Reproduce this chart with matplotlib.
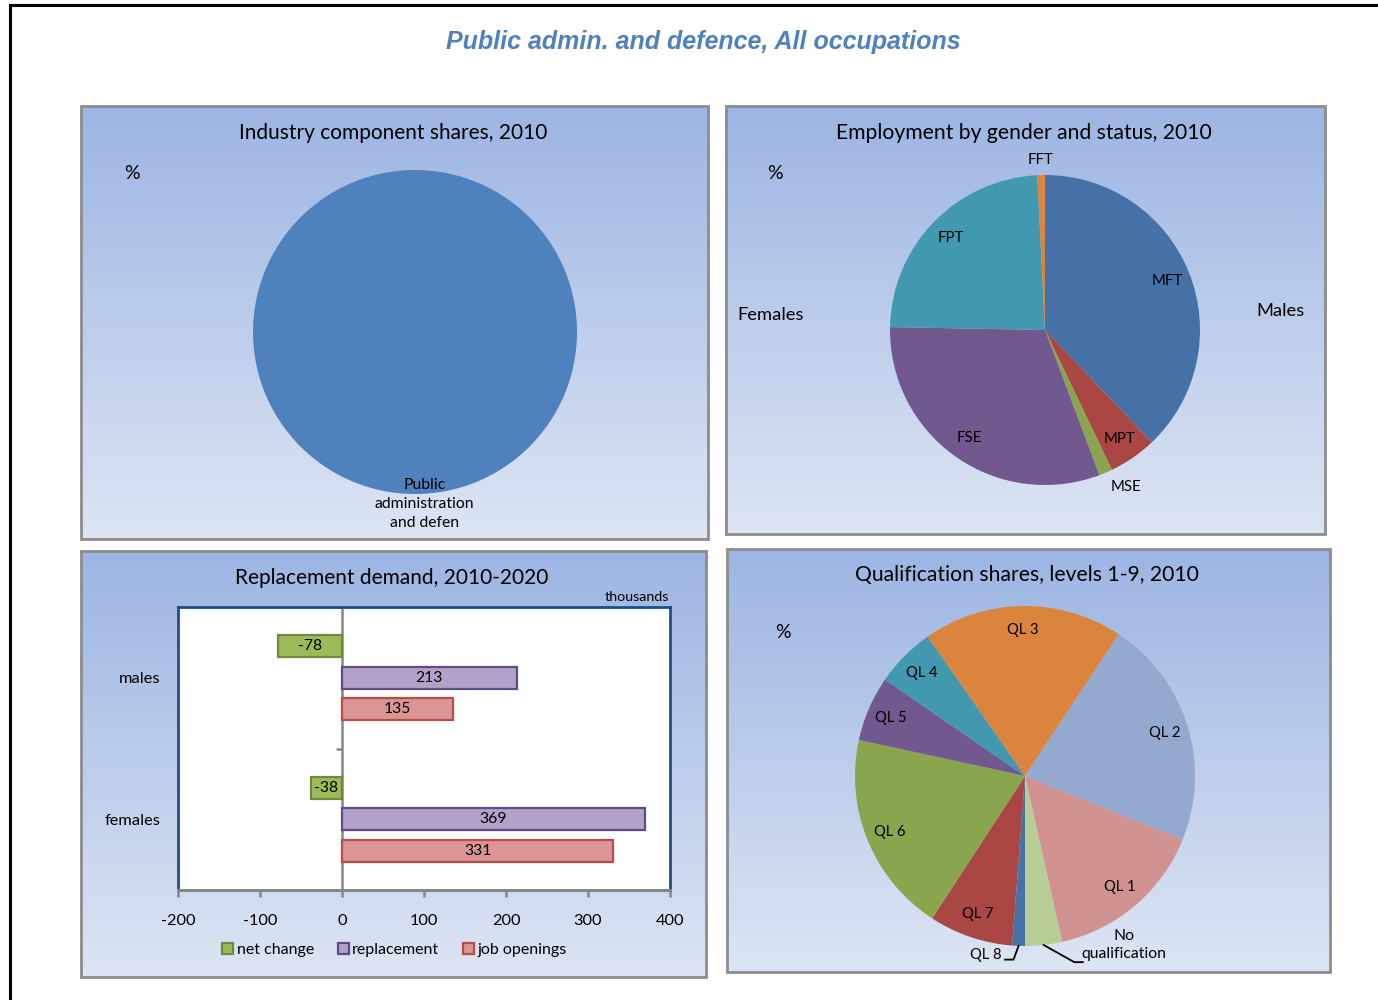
import numpy as np
import matplotlib.pyplot as plt
from matplotlib.colors import LinearSegmentedColormap
from matplotlib.patches import Rectangle
from matplotlib.lines import Line2D

plt.rcParams['font.family'] = ['Lato', 'DejaVu Sans']
plt.rcParams['axes.unicode_minus'] = False

W, H = 1378, 1000

# ---- data ----
industry_labels = ['Public\nadministration\nand defen']
industry_shares = [100.0]
industry_colors = ['#4F81BD']

emp_labels = ['MFT', 'MPT', 'MSE', 'FSE', 'FPT', 'FFT']
emp_shares = [37.9, 5.0, 1.4, 31.0, 23.9, 0.8]
emp_colors = ['#4571A6', '#AA4643', '#89A54E', '#71588F', '#4198AF', '#DB843D']
emp_outside = ['MSE', 'FFT']

qual_labels = ['QL 8', 'QL 7', 'QL 6', 'QL 5', 'QL 4', 'QL 3', 'QL 2', 'QL 1',
               'No\nqualification']
qual_shares = [1.2, 8.0, 19.2, 6.2, 5.7, 19.0, 21.8, 15.4, 3.5]
qual_colors = ['#4572A7', '#AA4643', '#89A54E', '#71588F', '#4198AF',
               '#DB843D', '#93A9CF', '#D19392', '#B9CD96']

groups = ['females', 'males']
net_change = [-38, -78]
replacement = [369, 213]
job_openings = [331, 135]


def px_axes(x0, y0, x1, y1, **kw):
    return fig.add_axes([x0 / W, 1 - y1 / H, (x1 - x0) / W, (y1 - y0) / H], **kw)


def panel(x0, y0, x1, y1):
    ax = px_axes(x0, y0, x1, y1)
    cmap = LinearSegmentedColormap.from_list('bg', ['#DDE5F3', '#9CB5E3'])
    grad = np.linspace(0, 1, 256).reshape(-1, 1)
    ax.imshow(grad, extent=[0, 1, 0, 1], aspect='auto', cmap=cmap, origin='lower')
    ax.set_axis_off()
    ax.add_patch(Rectangle((0, 0), 1, 1, transform=ax.transAxes, fill=False,
                           edgecolor='#8C8C8C', linewidth=2, clip_on=False))
    return ax


def pie_axes(cx, cy, r):
    ax = px_axes(cx - r, cy - r, cx + r, cy + r)
    return ax


def mid(w):
    return np.deg2rad((w.theta1 + w.theta2) / 2)


fig = plt.figure(figsize=(W / 100, H / 100), dpi=100)
fig.patch.set_facecolor('white')

# outer frame
fig.add_artist(Line2D([10 / W, 1], [1 - 5 / H, 1 - 5 / H], color='black', lw=2.2))
fig.add_artist(Line2D([10 / W, 10 / W], [0, 1 - 5 / H], color='black', lw=2.2))

fig.text(703 / W, 1 - 42 / H, 'Public admin. and defence, All occupations',
         family='Liberation Sans', fontsize=18, fontweight='bold',
         style='italic', color='#4F81BD', ha='center', va='center')

# ---- panel 1: industry shares ----
p1 = panel(81, 106, 708, 539)
fig.text(393 / W, 1 - 133 / H, 'Industry component shares, 2010', fontsize=15,
         ha='center', va='center')
fig.text(132 / W, 1 - 174 / H, '%', fontsize=14, ha='center', va='center')
ax1 = pie_axes(415, 332, 162)
w1, _ = ax1.pie(industry_shares, colors=industry_colors, startangle=90,
                counterclock=False, wedgeprops=dict(linewidth=0))
ax1.set_xlim(-1, 1)
ax1.set_ylim(-1, 1)
for w, lab in zip(w1, industry_labels):
    a = mid(w)
    ax1.text(0.06 + 1.06 * np.cos(a), 1.06 * np.sin(a), lab, ha='center',
             va='center', fontsize=11.3, linespacing=1.45)

# ---- panel 2: employment by gender and status ----
p2 = panel(726, 106, 1325, 534)
fig.text(1024 / W, 1 - 133 / H, 'Employment by gender and status, 2010',
         fontsize=15.2, ha='center', va='center')
fig.text(775 / W, 1 - 174 / H, '%', fontsize=14, ha='center', va='center')
fig.text(771 / W, 1 - 315 / H, 'Females', fontsize=13.2, ha='center', va='center')
fig.text(1281 / W, 1 - 311 / H, 'Males', fontsize=13.2, ha='center', va='center')
ax2 = pie_axes(1045, 330, 155)
w2, _ = ax2.pie(emp_shares, colors=emp_colors, startangle=90, counterclock=False,
                wedgeprops=dict(linewidth=0))
ax2.set_xlim(-1, 1)
ax2.set_ylim(-1, 1)
for w, lab in zip(w2, emp_labels):
    a = mid(w)
    d = 1.1 if lab in emp_outside else 0.85
    dx = 0.09 if lab == 'MSE' else 0.0
    ax2.text(d * np.cos(a) + dx, d * np.sin(a), lab, ha='center', va='center',
             fontsize=10.8)

# ---- panel 3: replacement demand ----
p3 = panel(81, 551, 706, 977)
fig.text(392 / W, 1 - 578 / H, 'Replacement demand, 2010-2020', fontsize=15,
         ha='center', va='center')
fig.text(637 / W, 1 - 597 / H, 'thousands', fontsize=10.3, ha='center', va='center')
ax3 = px_axes(178, 607, 670, 890)
ax3.set_facecolor('white')
y = np.arange(len(groups))
step, hgt = 0.223, 0.155
series = [('net change', net_change, '#9BBB59', '#71893F', step),
          ('replacement', replacement, '#B3A2C7', '#5F4B8B', 0.0),
          ('job openings', job_openings, '#D99694', '#B94B48', -step)]
handles = []
for name, vals, fc, ec, off in series:
    bars = ax3.barh(y + off, vals, height=hgt, color=fc, edgecolor=ec,
                    linewidth=1.6, label=name, zorder=3)
    handles.append(bars)
    for b, v in zip(bars, vals):
        ax3.text(v / 2, b.get_y() + b.get_height() / 2, str(v), ha='center',
                 va='center', fontsize=11.3, zorder=4)
ax3.set_xlim(-200, 400)
ax3.set_ylim(-0.5, len(groups) - 0.5)
ax3.axvline(0, color='#868686', lw=1.8, zorder=2)
ax3.hlines([0.5, 1.5], -7, 0, color='#868686', lw=1.8, zorder=2)
ax3.set_xticks(np.arange(-200, 401, 100))
ax3.tick_params(axis='x', length=5, width=1.8, color='#868686', pad=12.5,
                labelsize=11.8)
ax3.set_yticks(y)
ax3.set_yticklabels(groups)
ax3.tick_params(axis='y', length=0, pad=12.5, labelsize=11.8)
for s in ['left', 'top', 'right']:
    ax3.spines[s].set_color('#1F4E8C')
    ax3.spines[s].set_linewidth(2)
ax3.spines['bottom'].set_color('#868686')
ax3.spines['bottom'].set_linewidth(2.2)
ax3.legend(handles=handles, loc='center', bbox_to_anchor=(0.44, -0.212),
           ncol=3, frameon=False, fontsize=11.5, handlelength=0.7,
           handleheight=0.7, handletextpad=0.2, columnspacing=1.5)

# ---- panel 4: qualification shares ----
p4 = panel(727, 549, 1330, 972)
fig.text(1027 / W, 1 - 575 / H, 'Qualification shares, levels 1-9, 2010',
         fontsize=15.2, ha='center', va='center')
fig.text(783 / W, 1 - 632 / H, '%', fontsize=14, ha='center', va='center')
ax4 = pie_axes(1025, 776, 170)
w4, _ = ax4.pie(qual_shares, colors=qual_colors, startangle=270,
                counterclock=False, wedgeprops=dict(linewidth=0))
ax4.set_xlim(-1, 1)
ax4.set_ylim(-1, 1)
for w, lab in zip(w4, qual_labels):
    a = mid(w)
    ex, ey = np.cos(a), np.sin(a)
    if lab == 'QL 8':
        ax4.plot([ex, ex - 0.03, ex - 0.08], [ey, -1.08, -1.08], color='black',
                 lw=1.3, clip_on=False)
        ax4.text(ex - 0.1, -1.055, lab, ha='right', va='center', fontsize=10.6)
    elif lab.startswith('No'):
        ax4.plot([ex, ex + 0.18, ex + 0.23], [ey, -1.095, -1.095], color='black',
                 lw=1.3, clip_on=False)
        ax4.text(0.58, -0.995, lab, ha='center', va='center', fontsize=11.3,
                 linespacing=1.4)
    else:
        ax4.text(0.86 * ex, 0.86 * ey, lab, ha='center', va='center',
                 fontsize=10.6)

fig.savefig('out.png', dpi=100)
